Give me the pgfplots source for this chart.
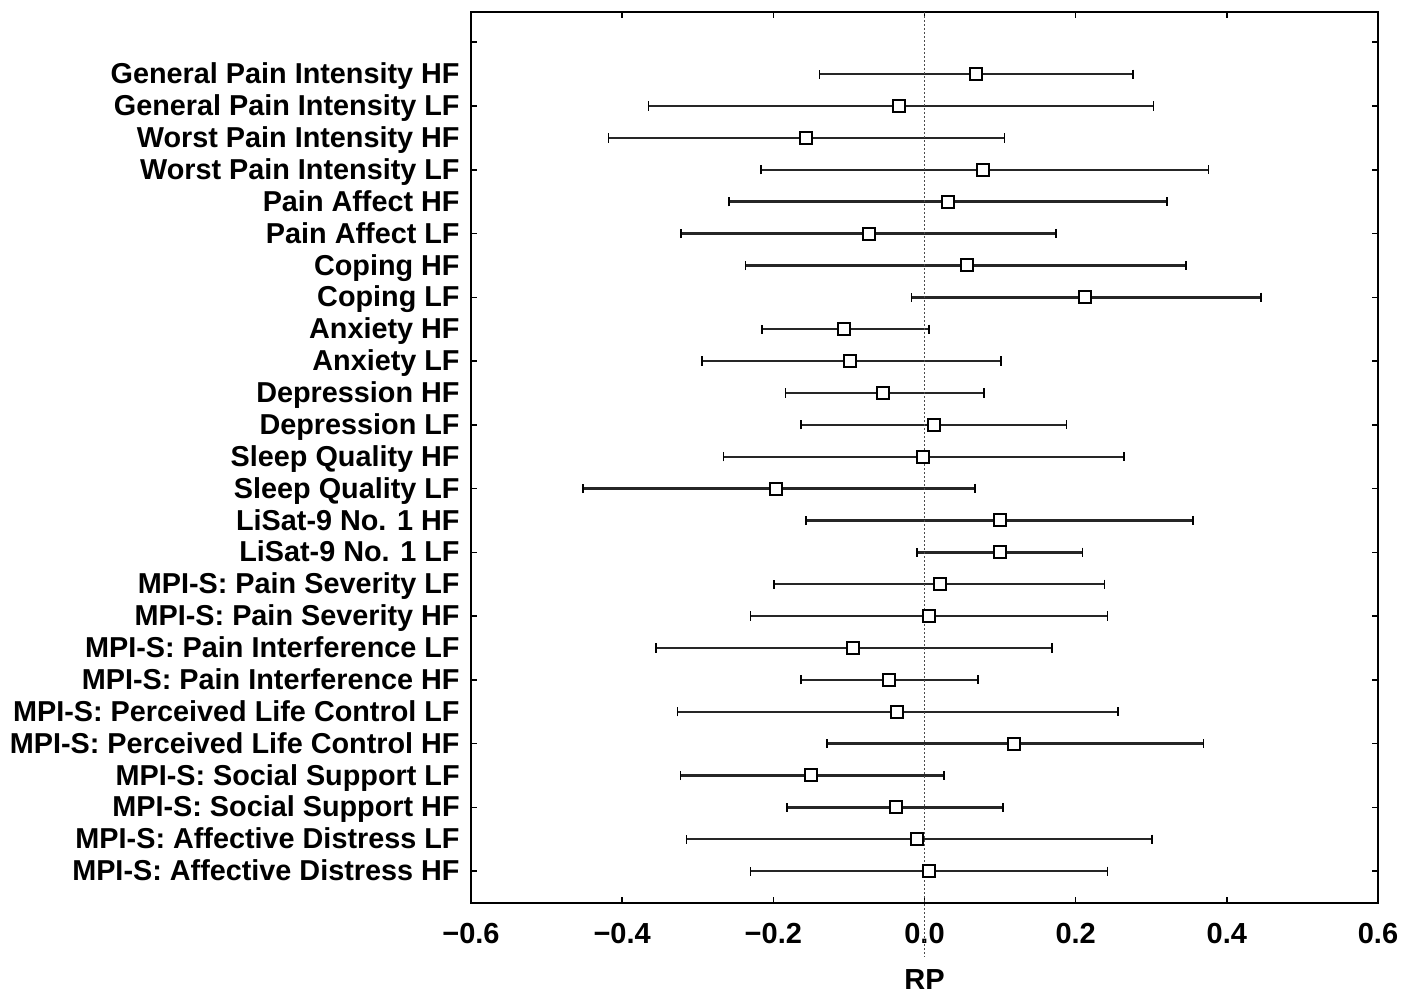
\documentclass[border=0pt]{standalone}
\usepackage{pgfplots}
\pgfplotsset{compat=1.18}
\usepackage{pgfplotstable}
\usepackage{fontspec}
\setmainfont{Liberation Sans}

% row, mean RP, lower and upper limit
\pgfplotstableread{
row mean lo hi
1 0.068 -0.139 0.276
2 -0.034 -0.365 0.303
3 -0.157 -0.418 0.106
4 0.078 -0.216 0.376
5 0.031 -0.259 0.321
6 -0.073 -0.322 0.174
7 0.056 -0.237 0.346
8 0.213 -0.017 0.445
9 -0.106 -0.215 0.006
10 -0.098 -0.294 0.101
11 -0.055 -0.184 0.079
12 0.013 -0.163 0.188
13 -0.002 -0.266 0.264
14 -0.196 -0.452 0.067
15 0.100 -0.157 0.355
16 0.100 -0.010 0.209
17 0.020 -0.199 0.238
18 0.006 -0.230 0.242
19 -0.095 -0.355 0.169
20 -0.047 -0.163 0.071
21 -0.036 -0.327 0.256
22 0.118 -0.129 0.369
23 -0.150 -0.323 0.026
24 -0.038 -0.182 0.104
25 -0.010 -0.315 0.301
26 0.006 -0.230 0.242
}\rpdata

\begin{document}
\begin{tikzpicture}
\begin{axis}[
  scale only axis, width=453.5pt, height=445.5pt,
  xmin=-0.6, xmax=0.6, ymin=-0.95, ymax=27, y dir=reverse,
  axis line style={line width=1pt},
  major tick length=3pt, tick style={line width=0.8pt, black},
  xtick={-0.6,-0.4,-0.2,0,0.2,0.4,0.6},
  xticklabels={−0.6,−0.4,−0.2,0.0,0.2,0.4,0.6},
  xticklabel style={font=\bfseries\fontsize{14.5}{16}\selectfont, inner sep=0pt, yshift=-10pt},
  ytick={1,...,26},
  yticklabels={General Pain Intensity HF, General Pain Intensity LF,
    Worst Pain Intensity HF, Worst Pain Intensity LF,
    Pain Affect HF, Pain Affect LF, Coping HF, Coping LF,
    Anxiety HF, Anxiety LF, Depression HF, Depression LF,
    Sleep Quality HF, Sleep Quality LF,
    LiSat-9 No. 1 HF, LiSat-9 No. 1 LF,
    MPI-S: Pain Severity LF, MPI-S: Pain Severity HF,
    MPI-S: Pain Interference LF, MPI-S: Pain Interference HF,
    MPI-S: Perceived Life Control LF, MPI-S: Perceived Life Control HF,
    MPI-S: Social Support LF, MPI-S: Social Support HF,
    MPI-S: Affective Distress LF, MPI-S: Affective Distress HF},
  yticklabel style={font=\bfseries\fontsize{14.4}{16}\selectfont, inner sep=0pt,
    text height=0.72em, text depth=0pt, xshift=-5.5pt, yshift=-1.2pt},
  ytick style={draw=none},
  extra y ticks={0,2,...,26},
  extra y tick labels={},
  extra y tick style={ytick style={draw=black}},
  xlabel={RP},
  xlabel style={at={(axis description cs:0.5,0)}, anchor=north, yshift=-33pt,
    inner sep=0pt, font=\bfseries\fontsize{14.5}{16}\selectfont},
  clip=false,
]
\addplot[only marks, mark=square*, mark size=3pt,
  mark options={fill=white, draw=black, line width=1pt},
  error bars/.cd, x dir=both, x explicit, error mark=|,
  error bar style={line width=1.2pt, black!85},
  error mark options={black, line width=0.8pt, mark size=2.3pt}]
  table[x=mean, y=row,
    x error plus expr=\thisrow{hi}-\thisrow{mean},
    x error minus expr=\thisrow{mean}-\thisrow{lo}] {\rpdata};
\draw[black!70, line width=0.5pt, dash pattern=on 1pt off 1pt]
  (axis cs:0,-0.95) -- (axis cs:0,28.7);
\end{axis}
\path ([xshift=-235.5pt,yshift=-45.5pt]current axis.south west)
  rectangle ([xshift=12.5pt,yshift=6pt]current axis.north east);
\end{tikzpicture}
\end{document}
